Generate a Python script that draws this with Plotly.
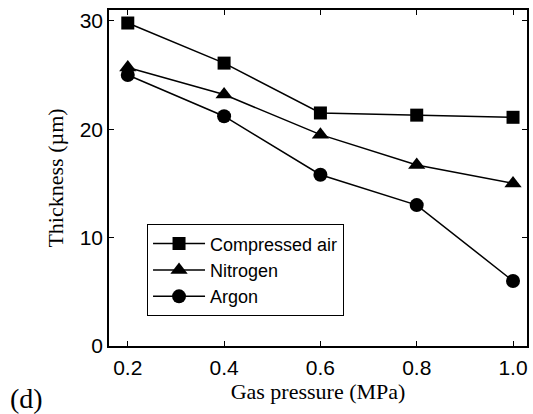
import plotly.graph_objects as go

pressure = [0.2, 0.4, 0.6, 0.8, 1.0]
compressed_air = [29.8, 26.1, 21.5, 21.3, 21.1]
nitrogen = [25.7, 23.2, 19.5, 16.7, 15.0]
argon = [25.0, 21.2, 15.8, 13.0, 6.0]

x_ticks = [0.2, 0.4, 0.6, 0.8, 1.0]
x_tick_text = ["0.2", "0.4", "0.6", "0.8", "1.0"]
y_ticks = [0, 10, 20, 30]

series = [
    ("Compressed air", compressed_air, "square", 13),
    ("Nitrogen", nitrogen, "triangle-up", 15),
    ("Argon", argon, "circle", 14),
]

fig = go.Figure()
for name, vals, sym, sz in series:
    fig.add_trace(go.Scatter(
        x=pressure, y=vals, name=name, mode="lines+markers",
        line=dict(color="black", width=1.5),
        marker=dict(symbol=sym, size=sz, color="black"),
    ))

sans = "Liberation Sans, Arial, sans-serif"
serif = "Liberation Serif, Times New Roman, serif"

axis_common = dict(
    showline=True, linecolor="black", linewidth=1.5, mirror="ticks",
    ticks="inside", ticklen=5, tickwidth=1.2, tickcolor="black",
    showgrid=False, zeroline=False,
    tickfont=dict(family=sans, size=21, color="black"),
)

fig.update_layout(
    width=533, height=414,
    margin=dict(l=109, r=4, t=10, b=68),
    paper_bgcolor="white", plot_bgcolor="white",
    xaxis=dict(range=[0.161, 1.029], tickvals=x_ticks, ticktext=x_tick_text,
               ticklabelstandoff=2,
               title=dict(text="Gas pressure (MPa)", standoff=0,
                          font=dict(family=serif, size=22, color="black")),
               **axis_common),
    yaxis=dict(range=[0, 31], tickvals=y_ticks,
               title=dict(text="Thickness (µm)", standoff=10,
                          font=dict(family=serif, size=22, color="black")),
               **axis_common),
    legend=dict(x=0.091, y=0.362, xanchor="left", yanchor="top",
                bordercolor="black", borderwidth=1, bgcolor="white",
                font=dict(family=sans, size=18, color="black"),
                itemwidth=52, tracegroupgap=0),
    showlegend=True,
)

fig.add_annotation(text="(d)", xref="paper", yref="paper", x=-0.2417, y=-0.155,
                   xanchor="left", yanchor="middle", showarrow=False,
                   font=dict(family=serif, size=28, color="black"))

fig.write_html("out.html")
